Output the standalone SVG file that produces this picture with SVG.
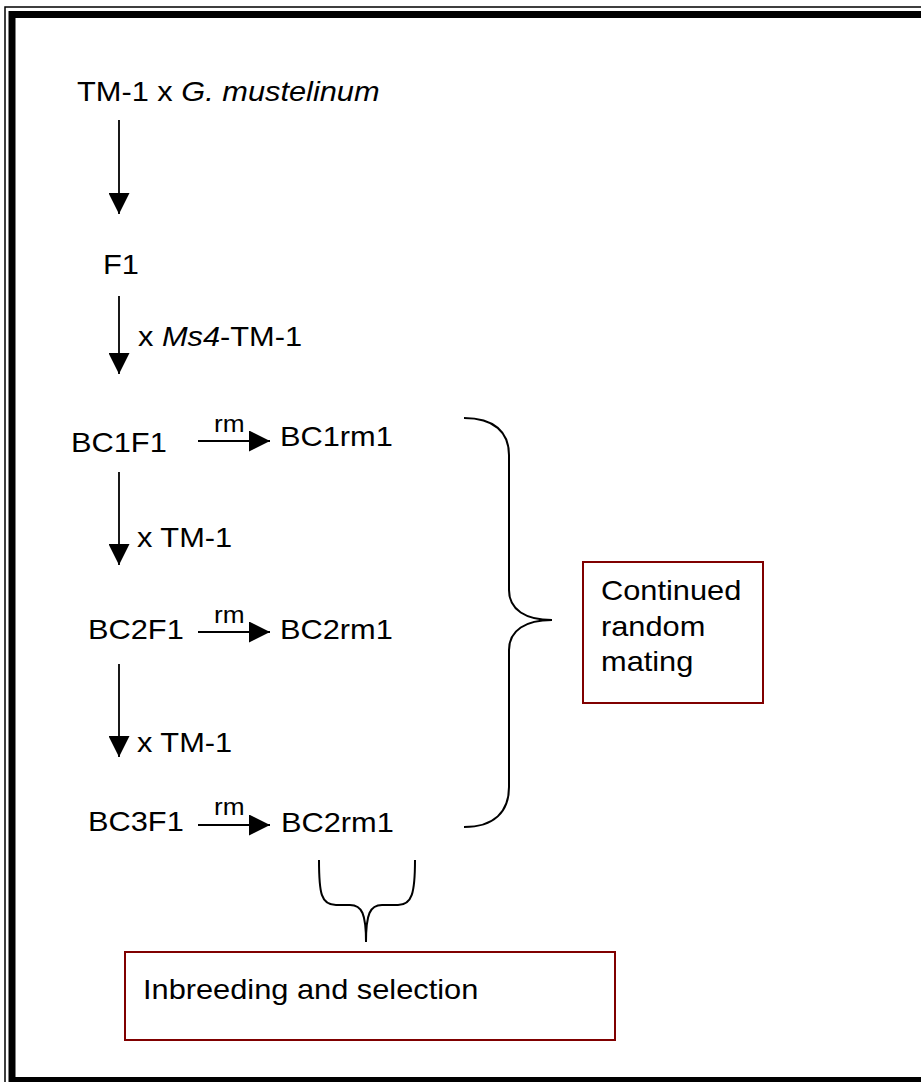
<svg xmlns="http://www.w3.org/2000/svg" width="921" height="1082" viewBox="0 0 921 1082">
<style>
  text { font-family: "Liberation Sans", Arial, sans-serif; fill: #000; }
  .t { font-size: 27px; }
  .rm { font-size: 23px; }
  .ln { stroke: #000; stroke-width: 1.8; fill: none; }
  .br { stroke: #000; stroke-width: 2; fill: none; }
  .bx { stroke: #800000; stroke-width: 2; fill: #fff; }
</style>
<defs>
  <marker id="ah" viewBox="0 0 10 10" refX="10" refY="5" markerWidth="21" markerHeight="21" markerUnits="userSpaceOnUse" orient="auto">
    <path d="M0,0 L10,5 L0,10 Z" fill="#000"/>
  </marker>
</defs>
<rect x="0" y="0" width="921" height="1082" fill="#fff"/>
<g id="frame">
  <rect x="5" y="7" width="1000" height="1200" fill="none" stroke="#000" stroke-width="1.5"/>
  <rect x="12" y="14.5" width="1000" height="1066" fill="none" stroke="#000" stroke-width="7"/>
</g>
<g id="connectors">
  <line class="ln" x1="119" y1="120" x2="119" y2="214" marker-end="url(#ah)"/>
  <line class="ln" x1="119" y1="296" x2="119" y2="374" marker-end="url(#ah)"/>
  <line class="ln" x1="119" y1="472" x2="119" y2="565" marker-end="url(#ah)"/>
  <line class="ln" x1="119" y1="664" x2="119" y2="757" marker-end="url(#ah)"/>
  <line class="ln" x1="198" y1="441" x2="270" y2="441" marker-end="url(#ah)"/>
  <line class="ln" x1="198" y1="632" x2="270" y2="632" marker-end="url(#ah)"/>
  <line class="ln" x1="198" y1="825" x2="270" y2="825" marker-end="url(#ah)"/>
  <path class="br" d="M464,418 C494,418 509,432 509,455 L509,590 C509,610 526,620 552,620 C526,620 509,630 509,650 L509,787 C509,812 494,827 464,827"/>
  <path class="br" d="M319,860 C319,893 321,905 336,905 L350,905 C362,905 366,914 366,942 C366,914 370,905 382,905 L398,905 C412,905 415,893 415,860"/>
</g>
<g id="labels">
  <text class="t" transform="translate(77,101) scale(1.14,1)">TM-1 x <tspan font-style="italic">G. mustelinum</tspan></text>
  <text class="t" transform="translate(138,346) scale(1.14,1)">x <tspan font-style="italic">Ms4</tspan>-TM-1</text>
  <text class="t" transform="translate(137,547) scale(1.14,1)">x TM-1</text>
  <text class="t" transform="translate(137,752) scale(1.14,1)">x TM-1</text>
  <text class="rm" transform="translate(214,432) scale(1.14,1)">rm</text>
  <text class="rm" transform="translate(214,623) scale(1.14,1)">rm</text>
  <text class="rm" transform="translate(214,815) scale(1.14,1)">rm</text>
</g>
<g id="n-f1"><text class="t" transform="translate(103,274) scale(1.14,1)">F1</text></g>
<g id="n-bc1f1"><text class="t" transform="translate(71,452) scale(1.14,1)">BC1F1</text></g>
<g id="n-bc1rm1"><text class="t" transform="translate(280,446) scale(1.14,1)">BC1rm1</text></g>
<g id="n-bc2f1"><text class="t" transform="translate(88,639) scale(1.14,1)">BC2F1</text></g>
<g id="n-bc2rm1"><text class="t" transform="translate(280,639) scale(1.14,1)">BC2rm1</text></g>
<g id="n-bc3f1"><text class="t" transform="translate(88,831) scale(1.14,1)">BC3F1</text></g>
<g id="n-bc3rm1"><text class="t" transform="translate(281,832) scale(1.14,1)">BC2rm1</text></g>
<g id="n-continued">
  <rect class="bx" x="583" y="562" width="180" height="141"/>
  <text class="t" transform="translate(601,600) scale(1.14,1)">Continued</text>
  <text class="t" transform="translate(601,636) scale(1.14,1)">random</text>
  <text class="t" transform="translate(601,671) scale(1.14,1)">mating</text>
</g>
<g id="n-inbreeding">
  <rect class="bx" x="125" y="952" width="490" height="88"/>
  <text class="t" transform="translate(143,999) scale(1.14,1)">Inbreeding and selection</text>
</g>
</svg>
